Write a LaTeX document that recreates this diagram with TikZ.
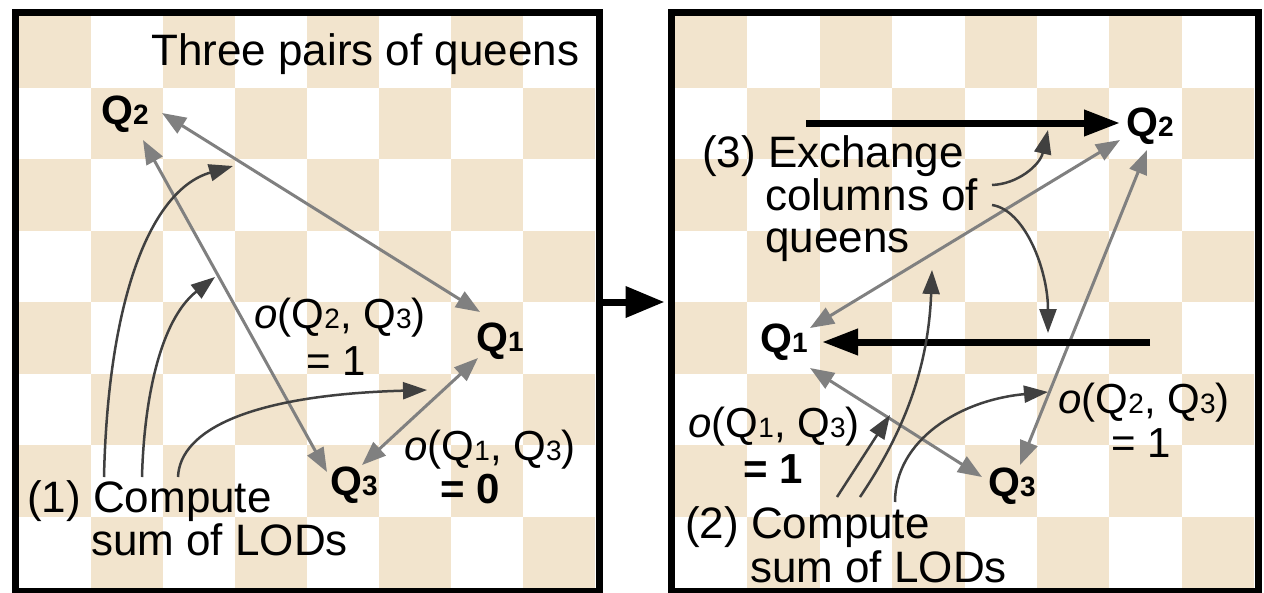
\documentclass[tikz,border=0pt]{standalone}
\usepackage{fontspec}
\setmainfont{Liberation Sans}
\usetikzlibrary{arrows.meta}

\definecolor{boardtan}{RGB}{242,228,205}
\definecolor{pairgray}{RGB}{128,128,128}
\definecolor{hintgray}{RGB}{64,64,64}

\newcommand\notetext{\fontsize{44}{50}\selectfont}
\newcommand\lodtext{\fontsize{42}{48}\selectfont}
\newcommand\queentext{\fontsize{41}{46}\selectfont\bfseries}
\newcommand\qidx[1]{{\fontsize{28}{28}\selectfont #1}}
\newcommand\lodpair[2]{\textit{o}(Q\qidx{#1}, Q\qidx{#2})}

\tikzset{
  queen/.style={font=\queentext, inner sep=0pt},
  textnote/.style={font=\notetext, inner sep=0pt, anchor=base west},
  lodlabel/.style={font=\lodtext, inner sep=0pt, anchor=base},
  boardframe/.style={draw, line width=7pt, inner sep=0pt},
  pairline/.style={draw=pairgray, line width=3pt,
    {Triangle[length=24pt,width=18pt]}-{Triangle[length=24pt,width=18pt]}},
  hintline/.style={draw=hintgray, line width=2.5pt, -{Triangle[length=24pt,width=17pt]}},
  swapline/.style={draw=black, line width=7pt, -{Triangle[length=36pt,width=25pt]}},
}

\begin{document}
\begin{tikzpicture}[x=1pt,y=-1pt]
\useasboundingbox (0,0) rectangle (1264,592);
\fill[white] (0,0) rectangle (1264,592);

% checkerboards (left and right)
\foreach \bx/\cw in {19/72, 675/72.375} {
  \foreach \r in {0,...,7} {
    \foreach \c in {0,2,4,6} {
      \pgfmathsetmacro\cc{\c+mod(\r,2)}
      \fill[boardtan] (\bx+\cc*\cw, 16+\r*71.5) rectangle ++(\cw,71.5);
    }
  }
}

% board frames
\node[boardframe, minimum width=583.5pt, minimum height=579pt] (boardL) at (307.25,302) {};
\node[boardframe, minimum width=586.5pt, minimum height=579pt] (boardR) at (964.75,302) {};
\draw[line width=7pt, -{Triangle[length=39pt,width=30pt]}] (boardL.east) -- ([xshift=-3.5pt]boardR.west);

% ---------- left board ----------
\node[textnote] (title) at (151,65) {Three pairs of queens};

\node[queen] (Q2L) at (125,114) {Q\qidx{2}};
\node[queen] (Q1L) at (500,341) {Q\qidx{1}};
\node[queen] (Q3L) at (354,485) {Q\qidx{3}};

\draw[pairline] ([shift={(37,-1)}]Q2L.center) -- ([shift={(-20,-29)}]Q1L.center);
\draw[pairline] ([shift={(18,26)}]Q2L.center) -- ([shift={(-27,-13)}]Q3L.center);
\draw[pairline] ([shift={(-22,17)}]Q1L.center) -- ([shift={(8,-20)}]Q3L.center);

\node[lodlabel] (lodL23) at (340,328) {\lodpair{2}{3}};
\node[lodlabel] (valL23) at (336,375) {= 1};
\node[lodlabel] (lodL13) at (490,460) {\lodpair{1}{3}};
\node[lodlabel, font=\lodtext\bfseries] (valL13) at (470,503) {= 0};

\node[textnote] (stepA) at (27,512) {(1) Compute};
\node[textnote] (stepAb) at (91,555) {sum of LODs};

\coordinate (hintA1) at (233,166);
\coordinate (hintA2) at (215,277);
\coordinate (hintA3) at (427,390);
\draw[hintline] ([shift={(77,-35)}]stepA.base west) .. controls (108,300) and (150,190) .. (hintA1);
\draw[hintline] ([shift={(115,-35)}]stepA.base west) .. controls (144,400) and (160,320) .. (hintA2);
\draw[hintline] ([shift={(151,-35)}]stepA.base west) .. controls (180,430) and (250,395) .. (hintA3);

% ---------- right board ----------
\node[queen] (Q2R) at (1150,126) {Q\qidx{2}};
\node[queen] (Q1R) at (784,342) {Q\qidx{1}};
\node[queen] (Q3R) at (1012,486) {Q\qidx{3}};

\draw[pairline] ([shift={(26,-14)}]Q1R.center) -- ([shift={(-30,14)}]Q2R.center);
\draw[pairline] ([shift={(-3,24)}]Q2R.center) -- ([shift={(8,-21)}]Q3R.center);
\draw[pairline] ([shift={(26,26)}]Q1R.center) -- ([shift={(-30,-9)}]Q3R.center);

\coordinate (swapTop) at (806,123);
\coordinate (swapBot) at (1150,342);
\draw[swapline] (swapTop) -- ([shift={(-30,-3)}]Q2R.center);
\draw[swapline] (swapBot) -- ([shift={(38,0)}]Q1R.center);

\node[textnote] (stepC) at (702,167) {(3) Exchange};
\node[textnote] (stepCb) at (765,210) {columns of};
\node[textnote] (stepCc) at (765,252) {queens};

\coordinate (hintC1) at (1048,130);
\coordinate (hintC2) at (1048,333);
\draw[hintline] ([shift={(227,-25)}]stepCb.base west) .. controls (1018,184) and (1040,165) .. (hintC1);
\draw[hintline] ([shift={(227,-5)}]stepCb.base west) .. controls (1025,210) and (1048,270) .. (hintC2);

\node[lodlabel] (lodR13) at (774,437) {\lodpair{1}{3}};
\node[lodlabel, font=\lodtext\bfseries] (valR13) at (773,483) {= 1};
\node[lodlabel] (lodR23) at (1144,413) {\lodpair{2}{3}};
\node[lodlabel] (valR23) at (1141,457) {= 1};

\node[textnote] (stepB) at (685,538) {(2) Compute};
\node[textnote] (stepBb) at (750,582) {sum of LODs};

\coordinate (hintB1) at (890,415);
\coordinate (hintB2) at (932,270);
\coordinate (hintB3) at (1048,392);
\draw[hintline] ([shift={(152,-41)}]stepB.base west) -- (hintB1);
\draw[hintline] ([shift={(175,-41)}]stepB.base west) .. controls (895,445) and (928,380) .. (hintB2);
\draw[hintline] ([shift={(210,-36)}]stepB.base west) .. controls (895,440) and (960,400) .. (hintB3);
\end{tikzpicture}
\end{document}
